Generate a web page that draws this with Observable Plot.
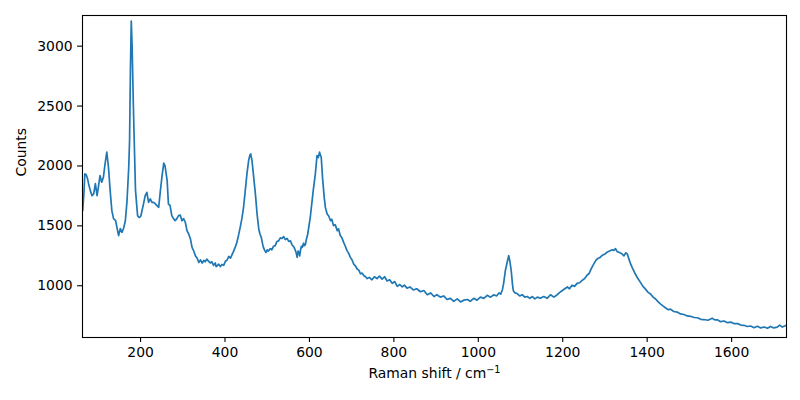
<!DOCTYPE html>
<html>
<head>
<meta charset="utf-8">
<script src="https://cdn.jsdelivr.net/npm/d3@7"></script>
<script src="https://cdn.jsdelivr.net/npm/@observablehq/plot@0.6"></script>
<style>
  html, body { margin: 0; padding: 0; background: #fff; }
  #chart { width: 800px; height: 400px; }
</style>
</head>
<body>
<div id="chart"></div>
<script>
const ramanShift = [
  63, 66, 68, 71, 74, 77, 81, 85, 89, 93, 97, 100, 104, 108, 112, 116, 120, 124, 128, 132,
  136, 141, 144, 148, 152, 156, 160, 164, 168, 172, 174, 176, 178, 180, 183, 185, 188, 190, 193, 196,
  198, 201, 203, 207, 211, 215, 219, 223, 227, 231, 235, 239, 243, 247, 251, 255, 258, 263, 266, 270,
  274, 278, 282, 286, 290, 294, 298, 302, 306, 310, 314, 318,
  322, 326, 330, 334, 338, 342, 346, 350, 353, 357, 361, 365, 369, 373, 377, 379, 381, 385, 389, 393,
  397, 401, 405, 409, 413, 417, 420, 424, 428, 432, 436, 440, 444, 448, 452, 456, 459, 461, 463, 464,
  468, 472, 476, 480, 483, 486, 489, 491, 494, 497, 500, 503, 507, 511, 515, 519, 523, 527, 531, 535,
  539, 543, 547, 551, 555, 559, 563, 567, 569, 571, 573, 575, 577, 579, 581, 583, 586, 588, 590, 593,
  596, 602, 609, 614, 618, 621, 624, 626, 628, 631, 635, 638, 642, 646, 650, 653, 657, 661, 666, 669,
  673, 677, 681, 685, 689, 693, 697, 701, 705, 709, 713, 717, 721, 725, 729, 733, 737, 742, 748, 754,
  760, 766, 772, 778, 784, 790, 796, 802, 808, 814, 820, 825, 831, 838, 846, 854, 863, 871, 879, 887,
  895, 902, 910, 918, 926, 934, 942, 950, 958, 966, 974, 981, 989, 997, 1005, 1013, 1021, 1029, 1037, 1043,
  1049, 1053, 1057, 1060, 1064, 1068, 1072, 1075, 1078, 1081, 1083, 1087, 1092, 1098, 1104, 1110, 1116, 1122, 1128, 1134,
  1140, 1147, 1155, 1163, 1171, 1179, 1187, 1193, 1199, 1205, 1211, 1216, 1222, 1228, 1234, 1240, 1246, 1252, 1258, 1262,
  1266, 1270, 1274, 1278, 1282, 1288, 1294, 1300, 1305, 1311, 1317, 1321, 1325, 1329, 1333, 1339, 1345, 1349, 1353, 1357,
  1361, 1366, 1372, 1378, 1384, 1390, 1396, 1402, 1408, 1414, 1420, 1426, 1432, 1438, 1444, 1450, 1455, 1463, 1471, 1479,
  1487, 1495, 1503, 1511, 1519, 1527, 1534, 1544, 1554, 1560, 1566, 1574, 1582, 1590, 1598, 1606, 1614, 1622, 1629, 1637,
  1645, 1653, 1661, 1669, 1677, 1685, 1692, 1700, 1708, 1714, 1720, 1728
];
const counts = [
  1627, 1780, 1934, 1928, 1900, 1850, 1794, 1752, 1767, 1853, 1752, 1822, 1920, 1864, 1905, 2020, 2115, 1989, 1794, 1627,
  1560, 1543, 1487, 1418, 1477, 1446, 1482, 1543, 1711, 1989, 2212, 2800, 3210, 3000, 2500, 2212, 1800, 1711, 1585, 1571,
  1571, 1585, 1620, 1683, 1752, 1780, 1696, 1725, 1696, 1696, 1683, 1669, 1655, 1794, 1920, 2023, 2000, 1878, 1683, 1669,
  1585, 1560, 1543, 1560, 1585, 1590, 1543, 1560, 1530, 1460, 1432, 1393,
  1320, 1290, 1251, 1230, 1195, 1215, 1190, 1212, 1200, 1222, 1205, 1190, 1200, 1170, 1190, 1160, 1165, 1180, 1160, 1178,
  1170, 1205, 1215, 1245, 1230, 1262, 1285, 1320, 1360, 1420, 1487, 1560, 1655, 1794, 1934, 2045, 2090, 2101, 2060, 2045,
  1905, 1767, 1599, 1474, 1430, 1404, 1350, 1320, 1295, 1278, 1300, 1290, 1310, 1300, 1330, 1335, 1370, 1375, 1400, 1395,
  1410, 1385, 1395, 1370, 1375, 1340, 1325, 1293, 1270, 1237, 1290, 1280, 1250, 1300, 1330, 1320, 1355, 1335, 1340, 1390,
  1432, 1571, 1794, 1934, 2087, 2070, 2115, 2090, 2073, 1905, 1738, 1650, 1599, 1580, 1543, 1555, 1502, 1510, 1460, 1475,
  1420, 1400, 1362, 1330, 1293, 1270, 1237, 1215, 1181, 1165, 1140, 1130, 1100, 1105, 1084, 1075, 1060, 1070, 1050, 1075,
  1060, 1080, 1055, 1075, 1040, 1050, 1020, 1035, 995, 1010, 990, 1005, 980, 990, 965, 975, 950, 960, 925, 940,
  910, 925, 905, 915, 885, 895, 870, 890, 865, 880, 885, 870, 895, 880, 905, 895, 920, 905, 925, 915,
  940, 930, 965, 1020, 1125, 1190, 1251, 1200, 1125, 1010, 958, 940, 935, 915, 925, 905, 910, 895, 910, 890,
  905, 895, 910, 895, 925, 905, 925, 945, 960, 975, 990, 975, 1005, 995, 1020, 1025, 1045, 1060, 1090, 1100,
  1130, 1160, 1185, 1210, 1225, 1235, 1255, 1265, 1280, 1290, 1300, 1295, 1310, 1285, 1280, 1270, 1250, 1275, 1265, 1220,
  1180, 1140, 1098, 1060, 1028, 995, 972, 945, 931, 905, 889, 865, 847, 830, 814, 800, 805, 785, 780, 765,
  760, 748, 745, 735, 733, 720, 718, 712, 728, 715, 716, 700, 706, 692, 697, 683, 684, 672, 670, 660,
  664, 650, 662, 648, 656, 645, 660, 648, 655, 672, 655, 668
];
const xTicks = [200, 400, 600, 800, 1000, 1200, 1400, 1600];
const yTicks = [1000, 1500, 2000, 2500, 3000];
const xLabelBase = "Raman shift / cm";
const xLabelSup = "−1";
const yLabel = "Counts";

const data = ramanShift.map((x, i) => ({x, y: counts[i]}));

const chart = Plot.plot({
  width: 800,
  height: 400,
  marginLeft: 82,
  marginRight: 14,
  marginTop: 15,
  marginBottom: 63,
  style: {fontFamily: "DejaVu Sans", fontSize: "13.9px", color: "#000", background: "#fff"},
  x: {domain: [62.5, 1730]},
  y: {domain: [568, 3256]},
  marks: [
    Plot.line(data, {x: "x", y: "y", stroke: "#1f77b4", strokeWidth: 1.7, clip: true}),
    Plot.frame({stroke: "#000", strokeWidth: 1.1}),
    Plot.axisX({ticks: xTicks, tickSize: 4.9, tickPadding: 5, tickFormat: d => String(d), label: null, strokeWidth: 1.1}),
    Plot.axisY({ticks: yTicks, tickSize: 4.9, tickPadding: 5, tickFormat: d => String(d), label: null, strokeWidth: 1.1}),
    Plot.text([xLabelBase + xLabelSup], {text: d => d, frameAnchor: "bottom", dy: 40, fontSize: 13.9, fill: "#000", className: "xlabel"}),
    Plot.text([yLabel], {text: d => d, frameAnchor: "left", dx: -61, rotate: -90, fontSize: 13.9, fill: "#000"})
  ]
});
document.getElementById("chart").appendChild(chart);

// render the exponent as a raised, smaller tspan (like mathtext)
const t = d3.select(chart).select(".xlabel text");
t.text(null);
t.append("tspan").text(xLabelBase);
t.append("tspan").attr("dy", "-0.5em").attr("font-size", "9.7px").text(xLabelSup);
</script>
</body>
</html>
